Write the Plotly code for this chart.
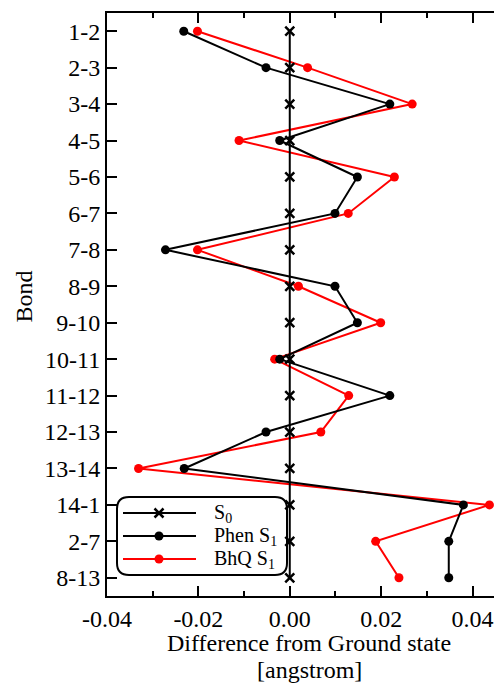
import plotly.graph_objects as go

bonds = ["1-2", "2-3", "3-4", "4-5", "5-6", "6-7", "7-8", "8-9", "9-10",
         "10-11", "11-12", "12-13", "13-14", "14-1", "2-7", "8-13"]
s0 = [0, 0, 0, 0, 0, 0, 0, 0, 0, 0, 0, 0, 0, 0, 0, 0]
phen_s1 = [-0.0232, -0.0052, 0.0219, -0.0022, 0.0148, 0.0099, -0.0272, 0.0099,
           0.0148, -0.0022, 0.0219, -0.0052, -0.0231, 0.0380, 0.0348, 0.0348]
bhq_s1 = [-0.0202, 0.0039, 0.0268, -0.0111, 0.0229, 0.0128, -0.0202, 0.0019,
          0.0199, -0.0033, 0.0129, 0.0068, -0.0331, 0.0437, 0.0188, 0.0239]
x_ticks = [-0.04, -0.02, 0.0, 0.02, 0.04]
x_tick_labels = ["-0.04", "-0.02", "0.00", "0.02", "0.04"]
legend_names = ["S<sub>0</sub>", "Phen S<sub>1</sub>", "BhQ S<sub>1</sub>"]

FONT = "Liberation Serif, Times New Roman, serif"
W, H = 494, 684
L, R, T, B = 107, 0, 13, 88
PW, PH = W - L - R, H - T - B


def px_to_paper(px, py):
    return (px - L) / PW, (H - B - py) / PH


fig = go.Figure()
fig.add_trace(go.Scatter(x=bhq_s1, y=bonds, mode="lines+markers",
                         line=dict(color="#ff0000", width=2),
                         marker=dict(symbol="circle", size=9, color="#ff0000"),
                         showlegend=False, cliponaxis=False))
fig.add_trace(go.Scatter(x=phen_s1, y=bonds, mode="lines+markers",
                         line=dict(color="black", width=2),
                         marker=dict(symbol="circle", size=9, color="black"),
                         showlegend=False, cliponaxis=False))
fig.add_trace(go.Scatter(x=s0, y=bonds, mode="lines+markers",
                         line=dict(color="black", width=2),
                         marker=dict(symbol="x-thin", size=9,
                                     line=dict(color="black", width=2.5)),
                         showlegend=False, cliponaxis=False))

# manual legend on a hidden pixel-like overlay axis
lx0, lx1, lxm, ltx = 123, 196, 159, 212
rows = [513, 536, 559]
styles = [("black", "x-thin"), ("black", "circle"), ("#ff0000", "circle")]
for (col, sym), yy in zip(styles, rows):
    mk = dict(symbol=sym, size=9, color=col)
    if sym == "x-thin":
        mk["line"] = dict(color=col, width=2.5)
    fig.add_trace(go.Scatter(x=[lx0, lxm, lx1], y=[yy, yy, yy], mode="lines",
                             line=dict(color=col, width=2), xaxis="x2", yaxis="y2",
                             showlegend=False, hoverinfo="skip"))
    fig.add_trace(go.Scatter(x=[lxm], y=[yy], mode="markers", marker=mk,
                             xaxis="x2", yaxis="y2", showlegend=False, hoverinfo="skip"))

bl, br, bt, bb, rr = 117, 287, 497, 575, 12
path = (f"M {bl+rr},{bt} H {br-rr} Q {br},{bt} {br},{bt+rr} V {bb-rr} "
        f"Q {br},{bb} {br-rr},{bb} H {bl+rr} Q {bl},{bb} {bl},{bb-rr} "
        f"V {bt+rr} Q {bl},{bt} {bl+rr},{bt} Z")
fig.add_shape(type="path", path=path, xref="x2", yref="y2",
              line=dict(color="black", width=2), fillcolor="white", layer="below")

annotations = []
for name, yy in zip(legend_names, rows):
    annotations.append(dict(text=name, x=ltx, y=yy, xref="x2", yref="y2",
                            xanchor="left", yanchor="middle", showarrow=False,
                            font=dict(family=FONT, size=20, color="black")))
bx, by = px_to_paper(23.5, 297)
annotations.append(dict(text="Bond", x=bx, y=by, xref="paper", yref="paper",
                        textangle=-90, xanchor="center", yanchor="middle",
                        showarrow=False, font=dict(family=FONT, size=24, color="black")))
t1x, t1y = px_to_paper(309, 643)
annotations.append(dict(text="Difference from Ground state", x=t1x, y=t1y,
                        xref="paper", yref="paper", xanchor="center", yanchor="middle",
                        showarrow=False, font=dict(family=FONT, size=24, color="black")))
t2x, t2y = px_to_paper(309, 670)
annotations.append(dict(text="[angstrom]", x=t2x, y=t2y,
                        xref="paper", yref="paper", xanchor="center", yanchor="middle",
                        showarrow=False, font=dict(family=FONT, size=24, color="black")))

fig.update_layout(
    width=W, height=H,
    margin=dict(l=L, r=R, t=T, b=B, pad=0),
    paper_bgcolor="white", plot_bgcolor="white",
    font=dict(family=FONT, size=24, color="black"),
    showlegend=False,
    annotations=annotations,
    xaxis=dict(range=[-0.04, 0.0447], tickvals=x_ticks, ticktext=x_tick_labels,
               ticks="inside", ticklen=10, tickwidth=2, tickcolor="black",
               showline=True, linecolor="black", linewidth=2, mirror="ticks",
               showgrid=False, zeroline=False,
               tickfont=dict(family=FONT, size=24, color="black"),
               minor=dict(ticks="inside", ticklen=5, tickwidth=2, tickcolor="black",
                          dtick=0.01, tick0=0, showgrid=False)),
    yaxis=dict(type="category", categoryorder="array", categoryarray=bonds,
               range=[15.5, -0.5], ticks="inside", ticklen=10, tickwidth=2,
               tickcolor="black", showline=True, linecolor="black", linewidth=2,
               mirror=False, showgrid=False, zeroline=False,
               tickfont=dict(family=FONT, size=24, color="black")),
    xaxis2=dict(overlaying="x", range=[L, W - R], visible=False, fixedrange=True,
                anchor="y2"),
    yaxis2=dict(overlaying="y", range=[H - B, T], visible=False, fixedrange=True,
                anchor="x2"),
)

fig.write_html("out.html", config={"displayModeBar": False},
               post_script="document.body.style.margin='0';")
